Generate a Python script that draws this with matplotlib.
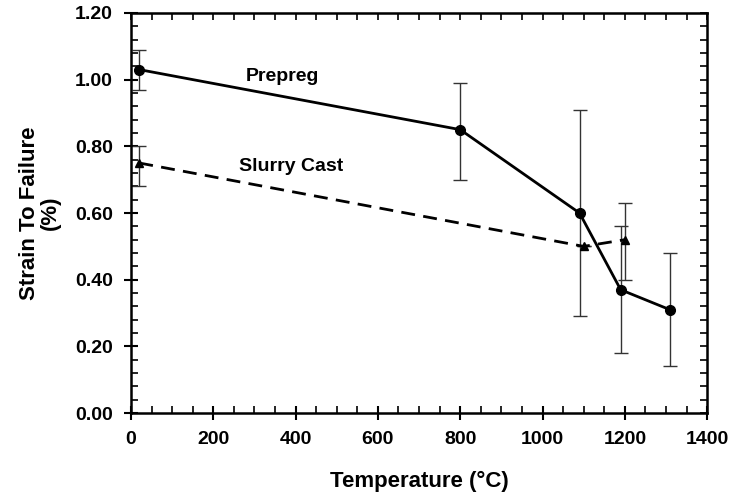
import numpy as np
import matplotlib
matplotlib.use("Agg")
import matplotlib.pyplot as plt
from matplotlib.ticker import MultipleLocator

plt.rcParams['font.family'] = ['Liberation Sans', 'DejaVu Sans']
plt.rcParams['font.weight'] = 'bold'

# Prepreg data
prepreg_T = [20, 800, 1090, 1190, 1310]
prepreg_strain = [1.03, 0.85, 0.60, 0.37, 0.31]
prepreg_hi = [1.09, 0.99, 0.91, 0.56, 0.48]
prepreg_lo = [0.97, 0.70, 0.29, 0.18, 0.14]

# Slurry cast data
slurry_T = [20, 1100, 1200]
slurry_strain = [0.75, 0.50, 0.52]
slurry_hi = [0.80, 0.50, 0.63]
slurry_lo = [0.68, 0.50, 0.40]

fig = plt.figure(figsize=(7.32, 4.96), dpi=100)
ax = fig.add_axes([0.179, 0.167, 0.787, 0.807])

pp = np.array(prepreg_strain)
ax.errorbar(prepreg_T, pp, yerr=[pp - np.array(prepreg_lo), np.array(prepreg_hi) - pp],
            fmt='none', ecolor='#333333', elinewidth=1.0, capsize=5, capthick=1.0)
ax.plot(prepreg_T, pp, '-', color='black', lw=2, marker='o', ms=7)

ss = np.array(slurry_strain)
ax.errorbar(slurry_T, ss, yerr=[ss - np.array(slurry_lo), np.array(slurry_hi) - ss],
            fmt='none', ecolor='#333333', elinewidth=1.0, capsize=5, capthick=1.0)
ax.plot(slurry_T, ss, '--', color='black', lw=2, marker='^', ms=6, dashes=(5, 3))

ax.text(367, 1.01, 'Prepreg', fontsize=14, fontweight='bold', ha='center', va='center')
ax.text(389, 0.74, 'Slurry Cast', fontsize=14, fontweight='bold', ha='center', va='center')

ax.set_xlim(0, 1400)
ax.set_ylim(0, 1.2)
ax.xaxis.set_major_locator(MultipleLocator(200))
ax.xaxis.set_minor_locator(MultipleLocator(50))
ax.yaxis.set_major_locator(MultipleLocator(0.2))
ax.yaxis.set_minor_locator(MultipleLocator(0.04))
ax.yaxis.set_major_formatter(lambda v, p: f'{v:.2f}')
ax.tick_params(which='major', direction='inout', length=10, width=1.5, labelsize=14, pad=8)
ax.tick_params(which='minor', direction='in', length=5, width=1.2)
for lab in ax.get_xticklabels() + ax.get_yticklabels():
    lab.set_fontweight('bold')
for sp in ax.spines.values():
    sp.set_linewidth(1.8)

# inward ticks on top and right
top = ax.secondary_xaxis('top')
top.xaxis.set_major_locator(MultipleLocator(200))
top.xaxis.set_minor_locator(MultipleLocator(50))
top.tick_params(which='both', direction='in', length=5, width=1.2, labeltop=False)
right = ax.secondary_yaxis('right')
right.yaxis.set_major_locator(MultipleLocator(0.2))
right.yaxis.set_minor_locator(MultipleLocator(0.04))
right.tick_params(which='both', direction='in', length=5, width=1.2, labelright=False)

ax.set_xlabel('Temperature (\u00b0C)', fontsize=16, fontweight='bold', labelpad=16)
ax.set_ylabel('Strain To Failure\n(%)', fontsize=16, fontweight='bold', labelpad=10,
              linespacing=1.0)

fig.savefig('out.png', dpi=100)
